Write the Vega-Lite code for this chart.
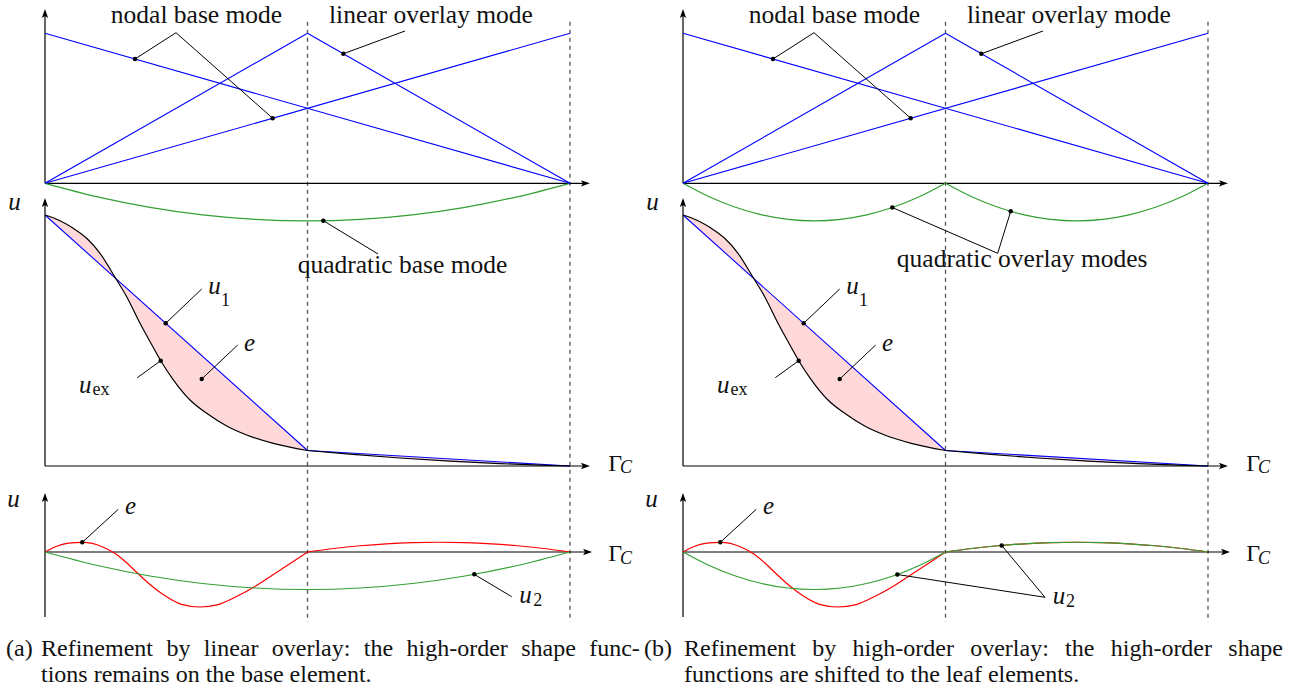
{
"$schema": "https://vega.github.io/schema/vega-lite/v6.json",
"padding": 0,
"bounds": "flush",
"background": "white",
"config": {"view": {"stroke": null}},
"data": {"values": [
{"k":"ax","p":["a","b"],"x":0,"y":0,"x2":0,"y2":1.122},
{"k":"ax","p":["a","b"],"x":0,"y":0,"x2":1.027,"y2":0},
{"k":"ax","p":["a","b"],"x":0,"y":-1.8847,"x2":0,"y2":-0.138},
{"k":"ax","p":["a","b"],"x":0,"y":-1.8847,"x2":1.027,"y2":-1.8847},
{"k":"ax","p":["a","b"],"x":0,"y":-2.891,"x2":0,"y2":-2.105},
{"k":"ax","p":["a","b"],"x":0,"y":-2.458,"x2":1.031,"y2":-2.458},
{"k":"ar","p":["a","b"],"x":1.038,"y":0},
{"k":"ar","p":["a","b"],"x":1.038,"y":-1.8847},
{"k":"ar","p":["a","b"],"x":1.042,"y":-2.458},
{"k":"au","p":["a","b"],"x":0,"y":1.162},
{"k":"au","p":["a","b"],"x":0,"y":-0.098},
{"k":"au","p":["a","b"],"x":0,"y":-2.065},
{"k":"da","p":["a","b"],"x":0.5,"y":1.077,"y2":-2.925},
{"k":"da","p":["a","b"],"x":1,"y":1.077,"y2":-2.925},
{"k":"bl","p":["a","b"],"x":0,"y":1,"x2":1,"y2":0},
{"k":"bl","p":["a","b"],"x":0,"y":0,"x2":1,"y2":1},
{"k":"bl","p":["a","b"],"x":0,"y":0,"x2":0.5,"y2":1},
{"k":"bl","p":["a","b"],"x":0.5,"y":1,"x2":1,"y2":0},
{"k":"bl","p":["a","b"],"x":0,"y":-0.2113,"x2":0.5,"y2":-1.7813},
{"k":"bl","p":["a","b"],"x":0.5,"y":-1.7813,"x2":1,"y2":-1.8847},

{"k":"gr","p":["a"],"s":"g1","x":0,"y":0},
{"k":"gr","p":["a"],"s":"g1","x":0.1,"y":-0.09},
{"k":"gr","p":["a"],"s":"g1","x":0.2,"y":-0.16},
{"k":"gr","p":["a"],"s":"g1","x":0.3,"y":-0.21},
{"k":"gr","p":["a"],"s":"g1","x":0.4,"y":-0.24},
{"k":"gr","p":["a"],"s":"g1","x":0.5,"y":-0.25},
{"k":"gr","p":["a"],"s":"g1","x":0.6,"y":-0.24},
{"k":"gr","p":["a"],"s":"g1","x":0.7,"y":-0.21},
{"k":"gr","p":["a"],"s":"g1","x":0.8,"y":-0.16},
{"k":"gr","p":["a"],"s":"g1","x":0.9,"y":-0.09},
{"k":"gr","p":["a"],"s":"g1","x":1,"y":0},

{"k":"gr","p":["b"],"s":"g2","x":0,"y":0},
{"k":"gr","p":["b"],"s":"g2","x":0.05,"y":-0.09},
{"k":"gr","p":["b"],"s":"g2","x":0.1,"y":-0.16},
{"k":"gr","p":["b"],"s":"g2","x":0.15,"y":-0.21},
{"k":"gr","p":["b"],"s":"g2","x":0.2,"y":-0.24},
{"k":"gr","p":["b"],"s":"g2","x":0.25,"y":-0.25},
{"k":"gr","p":["b"],"s":"g2","x":0.3,"y":-0.24},
{"k":"gr","p":["b"],"s":"g2","x":0.35,"y":-0.21},
{"k":"gr","p":["b"],"s":"g2","x":0.4,"y":-0.16},
{"k":"gr","p":["b"],"s":"g2","x":0.45,"y":-0.09},
{"k":"gr","p":["b"],"s":"g2","x":0.5,"y":0},

{"k":"gr","p":["b"],"s":"g3","x":0.5,"y":0},
{"k":"gr","p":["b"],"s":"g3","x":0.55,"y":-0.09},
{"k":"gr","p":["b"],"s":"g3","x":0.6,"y":-0.16},
{"k":"gr","p":["b"],"s":"g3","x":0.65,"y":-0.21},
{"k":"gr","p":["b"],"s":"g3","x":0.7,"y":-0.24},
{"k":"gr","p":["b"],"s":"g3","x":0.75,"y":-0.25},
{"k":"gr","p":["b"],"s":"g3","x":0.8,"y":-0.24},
{"k":"gr","p":["b"],"s":"g3","x":0.85,"y":-0.21},
{"k":"gr","p":["b"],"s":"g3","x":0.9,"y":-0.16},
{"k":"gr","p":["b"],"s":"g3","x":0.95,"y":-0.09},
{"k":"gr","p":["b"],"s":"g3","x":1,"y":0},

{"k":"gr","p":["a"],"s":"g4","x":0,"y":-2.458},
{"k":"gr","p":["a"],"s":"g4","x":0.1,"y":-2.548},
{"k":"gr","p":["a"],"s":"g4","x":0.2,"y":-2.618},
{"k":"gr","p":["a"],"s":"g4","x":0.3,"y":-2.668},
{"k":"gr","p":["a"],"s":"g4","x":0.4,"y":-2.698},
{"k":"gr","p":["a"],"s":"g4","x":0.5,"y":-2.708},
{"k":"gr","p":["a"],"s":"g4","x":0.6,"y":-2.698},
{"k":"gr","p":["a"],"s":"g4","x":0.7,"y":-2.668},
{"k":"gr","p":["a"],"s":"g4","x":0.8,"y":-2.618},
{"k":"gr","p":["a"],"s":"g4","x":0.9,"y":-2.548},
{"k":"gr","p":["a"],"s":"g4","x":1,"y":-2.458},

{"k":"gr","p":["b"],"s":"g5","x":0,"y":-2.458},
{"k":"gr","p":["b"],"s":"g5","x":0.05,"y":-2.548},
{"k":"gr","p":["b"],"s":"g5","x":0.1,"y":-2.618},
{"k":"gr","p":["b"],"s":"g5","x":0.15,"y":-2.668},
{"k":"gr","p":["b"],"s":"g5","x":0.2,"y":-2.698},
{"k":"gr","p":["b"],"s":"g5","x":0.25,"y":-2.708},
{"k":"gr","p":["b"],"s":"g5","x":0.3,"y":-2.698},
{"k":"gr","p":["b"],"s":"g5","x":0.35,"y":-2.668},
{"k":"gr","p":["b"],"s":"g5","x":0.4,"y":-2.618},
{"k":"gr","p":["b"],"s":"g5","x":0.45,"y":-2.548},
{"k":"gr","p":["b"],"s":"g5","x":0.5,"y":-2.458},

{"k":"gr","p":["b"],"s":"g6","x":0.5,"y":-2.458},
{"k":"gr","p":["b"],"s":"g6","x":0.55,"y":-2.4346},
{"k":"gr","p":["b"],"s":"g6","x":0.6,"y":-2.4164},
{"k":"gr","p":["b"],"s":"g6","x":0.65,"y":-2.4034},
{"k":"gr","p":["b"],"s":"g6","x":0.7,"y":-2.3956},
{"k":"gr","p":["b"],"s":"g6","x":0.75,"y":-2.393},
{"k":"gr","p":["b"],"s":"g6","x":0.8,"y":-2.3956},
{"k":"gr","p":["b"],"s":"g6","x":0.85,"y":-2.4034},
{"k":"gr","p":["b"],"s":"g6","x":0.9,"y":-2.4164},
{"k":"gr","p":["b"],"s":"g6","x":0.95,"y":-2.4346},
{"k":"gr","p":["b"],"s":"g6","x":1,"y":-2.458},

{"k":"rd","p":["a","b"],"s":"r1","x":0,"y":-2.458},
{"k":"rd","p":["a","b"],"s":"r1","x":0.02,"y":-2.4233},
{"k":"rd","p":["a","b"],"s":"r1","x":0.045,"y":-2.3993},
{"k":"rd","p":["a","b"],"s":"r1","x":0.071,"y":-2.3933},
{"k":"rd","p":["a","b"],"s":"r1","x":0.09,"y":-2.4007},
{"k":"rd","p":["a","b"],"s":"r1","x":0.11,"y":-2.4247},
{"k":"rd","p":["a","b"],"s":"r1","x":0.135,"y":-2.4713},
{"k":"rd","p":["a","b"],"s":"r1","x":0.155,"y":-2.528},
{"k":"rd","p":["a","b"],"s":"r1","x":0.175,"y":-2.5947},
{"k":"rd","p":["a","b"],"s":"r1","x":0.2,"y":-2.6747},
{"k":"rd","p":["a","b"],"s":"r1","x":0.225,"y":-2.7413},
{"k":"rd","p":["a","b"],"s":"r1","x":0.26,"y":-2.8067},
{"k":"rd","p":["a","b"],"s":"r1","x":0.295,"y":-2.8247},
{"k":"rd","p":["a","b"],"s":"r1","x":0.33,"y":-2.8087},
{"k":"rd","p":["a","b"],"s":"r1","x":0.365,"y":-2.7547},
{"k":"rd","p":["a","b"],"s":"r1","x":0.4,"y":-2.688},
{"k":"rd","p":["a","b"],"s":"r1","x":0.435,"y":-2.608},
{"k":"rd","p":["a","b"],"s":"r1","x":0.47,"y":-2.528},
{"k":"rd","p":["a","b"],"s":"r1","x":0.5,"y":-2.458},

{"k":"rd","p":["a","b"],"s":"r2","x":0.5,"y":-2.458},
{"k":"rd","p":["a","b"],"s":"r2","x":0.55,"y":-2.4346},
{"k":"rd","p":["a","b"],"s":"r2","x":0.6,"y":-2.4164},
{"k":"rd","p":["a","b"],"s":"r2","x":0.65,"y":-2.4034},
{"k":"rd","p":["a","b"],"s":"r2","x":0.7,"y":-2.3956},
{"k":"rd","p":["a","b"],"s":"r2","x":0.75,"y":-2.393},
{"k":"rd","p":["a","b"],"s":"r2","x":0.8,"y":-2.3956},
{"k":"rd","p":["a","b"],"s":"r2","x":0.85,"y":-2.4034},
{"k":"rd","p":["a","b"],"s":"r2","x":0.9,"y":-2.4164},
{"k":"rd","p":["a","b"],"s":"r2","x":0.95,"y":-2.4346},
{"k":"rd","p":["a","b"],"s":"r2","x":1,"y":-2.458},

{"k":"fi","p":["a","b"],"s":"L","x":0,"y":-0.2113,"y2":-0.2113},
{"k":"fi","p":["a","b"],"s":"L","x":0.0286,"y":-0.2493,"y2":-0.3011},
{"k":"fi","p":["a","b"],"s":"L","x":0.0539,"y":-0.3,"y2":-0.3805},
{"k":"fi","p":["a","b"],"s":"L","x":0.0794,"y":-0.3667,"y2":-0.4606},
{"k":"fi","p":["a","b"],"s":"L","x":0.1048,"y":-0.4667,"y2":-0.5404},
{"k":"fi","p":["a","b"],"s":"L","x":0.1333,"y":-0.6267,"y2":-0.6299},
{"k":"fi","p":["a","b"],"s":"L","x":0.1556,"y":-0.756,"y2":-0.6999},
{"k":"fi","p":["a","b"],"s":"L","x":0.181,"y":-0.9333,"y2":-0.7796},
{"k":"fi","p":["a","b"],"s":"L","x":0.2063,"y":-1.095,"y2":-0.8591},
{"k":"fi","p":["a","b"],"s":"L","x":0.2204,"y":-1.1827,"y2":-0.9034},
{"k":"fi","p":["a","b"],"s":"L","x":0.2444,"y":-1.31,"y2":-0.9787},
{"k":"fi","p":["a","b"],"s":"L","x":0.2762,"y":-1.4447,"y2":-1.0786},
{"k":"fi","p":["a","b"],"s":"L","x":0.308,"y":-1.5333,"y2":-1.1784},
{"k":"fi","p":["a","b"],"s":"L","x":0.3461,"y":-1.618,"y2":-1.2981},
{"k":"fi","p":["a","b"],"s":"L","x":0.3842,"y":-1.678,"y2":-1.4177},
{"k":"fi","p":["a","b"],"s":"L","x":0.4349,"y":-1.7333,"y2":-1.5769},
{"k":"fi","p":["a","b"],"s":"L","x":0.5,"y":-1.7813,"y2":-1.7813},
{"k":"fi","p":["a","b"],"s":"R","x":0.5,"y":-1.7813,"y2":-1.7813},
{"k":"fi","p":["a","b"],"s":"R","x":0.58,"y":-1.806,"y2":-1.7978},
{"k":"fi","p":["a","b"],"s":"R","x":0.6762,"y":-1.8313,"y2":-1.8177},
{"k":"fi","p":["a","b"],"s":"R","x":0.7714,"y":-1.8527,"y2":-1.8374},
{"k":"fi","p":["a","b"],"s":"R","x":0.8667,"y":-1.8687,"y2":-1.8571},
{"k":"fi","p":["a","b"],"s":"R","x":0.9429,"y":-1.8793,"y2":-1.8729},
{"k":"fi","p":["a","b"],"s":"R","x":1,"y":-1.8847,"y2":-1.8847},

{"k":"ld","p":["a","b"],"x":0.1714,"y":0.8286,"x2":0.2495,"y2":1.004},
{"k":"ld","p":["a","b"],"x":0.2495,"y":1.004,"x2":0.4337,"y2":0.4337},
{"k":"ld","p":["a","b"],"x":0.5682,"y":0.8636,"x2":0.6857,"y2":1.0153},
{"k":"ld","p":["a","b"],"x":0.2299,"y":-0.9332,"x2":0.2985,"y2":-0.7047},
{"k":"ld","p":["a","b"],"x":0.2985,"y":-1.3047,"x2":0.367,"y2":-1.078},
{"k":"ld","p":["a","b"],"x":0.1758,"y":-1.296,"x2":0.2204,"y2":-1.1827},
{"k":"ld","p":["a","b"],"x":0.071,"y":-2.3933,"x2":0.1396,"y2":-2.1733},
{"k":"ld","p":["a"],"x":0.5301,"y":-0.2491,"x2":0.6343,"y2":-0.4713},
{"k":"ld","p":["a"],"x":0.8177,"y":-2.607,"x2":0.889,"y2":-2.756},
{"k":"ld","p":["b"],"x":0.3987,"y":-0.1616,"x2":0.5994,"y2":-0.4667},
{"k":"ld","p":["b"],"x":0.5994,"y":-0.4667,"x2":0.6242,"y2":-0.1867},
{"k":"ld","p":["b"],"x":0.4082,"y":-2.6079,"x2":0.6895,"y2":-2.76},
{"k":"ld","p":["b"],"x":0.607,"y":-2.4143,"x2":0.6895,"y2":-2.76},

{"k":"dt","p":["a","b"],"x":0.1714,"y":0.8286},
{"k":"dt","p":["a","b"],"x":0.4337,"y":0.4337},
{"k":"dt","p":["a","b"],"x":0.5682,"y":0.8636},
{"k":"dt","p":["a","b"],"x":0.2299,"y":-0.9332},
{"k":"dt","p":["a","b"],"x":0.2985,"y":-1.3047},
{"k":"dt","p":["a","b"],"x":0.2204,"y":-1.1827},
{"k":"dt","p":["a","b"],"x":0.071,"y":-2.3933},
{"k":"dt","p":["a"],"x":0.5301,"y":-0.2491},
{"k":"dt","p":["a"],"x":0.8177,"y":-2.607},
{"k":"dt","p":["b"],"x":0.3987,"y":-0.1616},
{"k":"dt","p":["b"],"x":0.6242,"y":-0.1867},
{"k":"dt","p":["b"],"x":0.4082,"y":-2.6079},
{"k":"dt","p":["b"],"x":0.607,"y":-2.4143},

{"k":"lb","p":["a","b"],"x":0.2886,"y":1.0687,"t":"nodal base mode"},
{"k":"lb","p":["a","b"],"x":0.7352,"y":1.0687,"t":"linear overlay mode"},
{"k":"lb","p":["a"],"x":0.681,"y":-0.6,"t":"quadratic base mode"},
{"k":"lb","p":["b"],"x":0.6461,"y":-0.556,"t":"quadratic overlay modes"},

{"k":"gm","p":["a","b"],"x":1.073,"y":-1.918,"t":"Γ"},
{"k":"gm","p":["a","b"],"x":1.073,"y":-2.518,"t":"Γ"},
{"k":"sc","p":["a","b"],"x":1.0952,"y":-1.9333,"t":"C"},
{"k":"sc","p":["a","b"],"x":1.0952,"y":-2.5347,"t":"C"},

{"k":"mi","p":["a","b"],"x":0.311,"y":-0.7347,"t":"u"},
{"k":"mi","p":["a","b"],"x":0.379,"y":-1.118,"t":"e"},
{"k":"mi","p":["a","b"],"x":0.0648,"y":-1.396,"t":"u"},
{"k":"mi","p":["a","b"],"x":0.1524,"y":-2.2067,"t":"e"},
{"k":"mi","p":["a","b"],"x":-0.0699,"y":-0.178,"t":"u"},
{"k":"mi","p":["a","b"],"x":-0.0718,"y":-2.16,"t":"u"},
{"k":"mi","p":["a"],"x":0.9034,"y":-2.8,"t":"u"},
{"k":"mi","p":["b"],"x":0.7042,"y":-2.805,"t":"u"},
{"k":"su","p":["a","b"],"x":0.3352,"y":-0.82,"t":"1"},
{"k":"su","p":["a","b"],"x":0.0905,"y":-1.4093,"t":"ex"},
{"k":"su","p":["a"],"x":0.9301,"y":-2.818,"t":"2"},
{"k":"su","p":["b"],"x":0.7295,"y":-2.8247,"t":"2"},

{"k":"cp","p":["a"],"x":-0.0743,"y":-3.1513,"t":"(a)"},
{"k":"cp","p":["a"],"x":-0.0076,"y":-3.1513,"t":"Refinement"},
{"k":"cp","p":["a"],"x":0.2312,"y":-3.1513,"t":"by"},
{"k":"cp","p":["a"],"x":0.3025,"y":-3.1513,"t":"linear"},
{"k":"cp","p":["a"],"x":0.432,"y":-3.1513,"t":"overlay:"},
{"k":"cp","p":["a"],"x":0.6072,"y":-3.1513,"t":"the"},
{"k":"cp","p":["a"],"x":0.6886,"y":-3.1513,"t":"high-order"},
{"k":"cp","p":["a"],"x":0.907,"y":-3.1513,"t":"shape"},
{"k":"cp","p":["a"],"x":1.0366,"y":-3.1513,"t":"func-"},
{"k":"cp","p":["a"],"x":-0.0076,"y":-3.3247,"t":"tions remains on the base element."},
{"k":"cp","p":["b"],"x":-0.0743,"y":-3.1513,"t":"(b)"},
{"k":"cp","p":["b"],"x":0.0019,"y":-3.1513,"t":"Refinement"},
{"k":"cp","p":["b"],"x":0.2463,"y":-3.1513,"t":"by"},
{"k":"cp","p":["b"],"x":0.323,"y":-3.1513,"t":"high-order"},
{"k":"cp","p":["b"],"x":0.547,"y":-3.1513,"t":"overlay:"},
{"k":"cp","p":["b"],"x":0.7278,"y":-3.1513,"t":"the"},
{"k":"cp","p":["b"],"x":0.8147,"y":-3.1513,"t":"high-order"},
{"k":"cp","p":["b"],"x":1.0387,"y":-3.1513,"t":"shape"},
{"k":"cp","p":["b"],"x":0.0019,"y":-3.3247,"t":"functions are shifted to the leaf elements."}
]},
"transform": [{"flatten": ["p"]}],
"facet": {"column": {"field": "p", "type": "nominal", "header": {"title": null, "labels": false, "labelPadding": 0, "titlePadding": 0}}},
"spacing": 0,
"spec": {
"width": 638,
"height": 695,
"encoding": {
  "x": {"field": "x", "type": "quantitative", "scale": {"domain": [-0.08571, 1.12952], "nice": false, "zero": false}, "axis": null},
  "y": {"field": "y", "type": "quantitative", "scale": {"domain": [-3.4113, 1.222], "nice": false, "zero": false}, "axis": null}
},
"layer": [
{"transform": [{"filter": "datum.k === 'fi'"}],
 "mark": {"type": "area", "color": "#ffd9d9", "interpolate": "monotone", "opacity": 1},
 "encoding": {"y2": {"field": "y2"}, "detail": {"field": "s"}}},
{"transform": [{"filter": "datum.k === 'da'"}],
 "mark": {"type": "rule", "color": "#555555", "strokeWidth": 1.3, "strokeDash": [4, 4]},
 "encoding": {"y2": {"field": "y2"}}},
{"transform": [{"filter": "datum.k === 'ax'"}],
 "mark": {"type": "rule", "color": "black", "strokeWidth": 1.2},
 "encoding": {"x2": {"field": "x2"}, "y2": {"field": "y2"}}},
{"transform": [{"filter": "datum.k === 'rd'"}],
 "mark": {"type": "line", "color": "#ff0000", "strokeWidth": 1.2, "interpolate": "monotone"},
 "encoding": {"detail": {"field": "s"}}},
{"transform": [{"filter": "datum.k === 'gr'"}],
 "mark": {"type": "line", "color": "#33a033", "strokeWidth": 1.2, "interpolate": "monotone"},
 "encoding": {"detail": {"field": "s"}}},
{"transform": [{"filter": "datum.k === 'bl'"}],
 "mark": {"type": "rule", "color": "#0000ff", "strokeWidth": 1.1},
 "encoding": {"x2": {"field": "x2"}, "y2": {"field": "y2"}}},
{"transform": [{"filter": "datum.k === 'fi'"}],
 "mark": {"type": "line", "color": "black", "strokeWidth": 1.2, "interpolate": "monotone"},
 "encoding": {"detail": {"field": "s"}}},
{"transform": [{"filter": "datum.k === 'ld'"}],
 "mark": {"type": "rule", "color": "black", "strokeWidth": 1},
 "encoding": {"x2": {"field": "x2"}, "y2": {"field": "y2"}}},
{"transform": [{"filter": "datum.k === 'dt'"}],
 "mark": {"type": "point", "filled": true, "color": "black", "size": 20, "opacity": 1},
 "encoding": {}},
{"transform": [{"filter": "datum.k === 'ar'"}],
 "mark": {"type": "point", "filled": true, "color": "black", "size": 324, "opacity": 1, "shape": "M0,0L-1,-0.35L-0.78,0L-1,0.35Z"},
 "encoding": {}},
{"transform": [{"filter": "datum.k === 'au'"}],
 "mark": {"type": "point", "filled": true, "color": "black", "size": 324, "opacity": 1, "shape": "M0,0L-0.35,1L0,0.78L0.35,1Z"},
 "encoding": {}},
{"transform": [{"filter": "datum.k === 'lb'"}],
 "mark": {"type": "text", "font": "Liberation Serif", "fontSize": 25.5, "align": "center", "baseline": "alphabetic", "color": "#111111"},
 "encoding": {"text": {"field": "t"}}},
{"transform": [{"filter": "datum.k === 'gm'"}],
 "mark": {"type": "text", "font": "Liberation Serif", "fontSize": 24, "align": "left", "baseline": "alphabetic", "color": "#111111"},
 "encoding": {"text": {"field": "t"}}},
{"transform": [{"filter": "datum.k === 'sc'"}],
 "mark": {"type": "text", "font": "Liberation Serif", "fontSize": 18, "fontStyle": "italic", "align": "left", "baseline": "alphabetic", "color": "#111111"},
 "encoding": {"text": {"field": "t"}}},
{"transform": [{"filter": "datum.k === 'mi'"}],
 "mark": {"type": "text", "font": "Liberation Serif", "fontSize": 25, "fontStyle": "italic", "align": "left", "baseline": "alphabetic", "color": "#111111"},
 "encoding": {"text": {"field": "t"}}},
{"transform": [{"filter": "datum.k === 'su'"}],
 "mark": {"type": "text", "font": "Liberation Serif", "fontSize": 18, "align": "left", "baseline": "alphabetic", "color": "#111111"},
 "encoding": {"text": {"field": "t"}}},
{"transform": [{"filter": "datum.k === 'cp'"}],
 "mark": {"type": "text", "font": "Liberation Serif", "fontSize": 24, "align": "left", "baseline": "alphabetic", "color": "#111111"},
 "encoding": {"text": {"field": "t"}}}
]
}
}
